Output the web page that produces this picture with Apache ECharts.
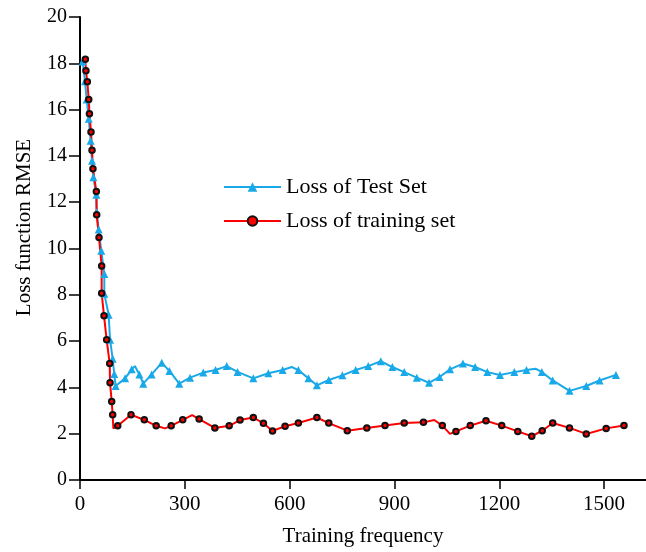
<!DOCTYPE html>
<html>
<head>
<meta charset="utf-8">
<script src="https://cdn.jsdelivr.net/npm/echarts@6/dist/echarts.min.js"></script>
<style>
  html, body { margin: 0; padding: 0; background: #fff; }
  #chart { width: 646px; height: 552px; }
</style>
</head>
<body>
<div id="chart"></div>
<script>
// Loss of Test Set
var testX = [7.6, 14.3, 19, 25, 30.5, 34.4, 38.2, 46.8, 47.7, 53.4, 61, 69.6, 69.6, 82, 86, 93.5, 98, 102,
  129, 148, 157, 170, 181, 205, 234, 256, 284, 315, 353, 388, 420, 451, 496, 539, 580, 606, 625, 654, 678,
  712, 751, 789, 825, 861, 894, 928, 964, 999, 1029, 1059, 1096, 1131, 1166, 1202, 1243, 1278, 1304, 1322,
  1353, 1401, 1449, 1487, 1534];
var testY = [18.08, 17.22, 16.44, 15.61, 14.65, 13.79, 13.08, 12.32, 11.57, 10.82, 9.9, 8.9, 8.04, 7.14, 6.06, 5.24, 4.58, 4.06,
  4.39, 4.78, 4.92, 4.56, 4.16, 4.56, 5.06, 4.71, 4.16, 4.42, 4.64, 4.75, 4.92, 4.67, 4.39, 4.61, 4.75, 4.88, 4.75, 4.39, 4.09,
  4.32, 4.52, 4.75, 4.92, 5.13, 4.88, 4.66, 4.42, 4.2, 4.45, 4.78, 5.03, 4.88, 4.66, 4.54, 4.66, 4.75, 4.81, 4.66,
  4.3, 3.85, 4.06, 4.3, 4.54];
var testBare = [157, 606, 1304];

// Loss of training set
var trainX = [15.3, 17, 21, 25, 27, 31.5, 34.4, 37, 46.8, 47.7, 54.4, 62, 62, 68.7, 76.3, 85, 86, 90.7, 93.5, 95.5,
  108, 146, 184, 218, 243, 261, 294, 321, 341, 386, 427, 458, 496, 525, 551, 587, 625, 678, 712, 765, 821,
  873, 928, 983, 1014, 1037, 1059, 1076, 1117, 1162, 1207, 1253, 1293, 1323, 1353, 1401, 1449, 1506, 1557];
var trainY = [18.18, 17.68, 17.2, 16.44, 15.82, 15.03, 14.24, 13.45, 12.46, 11.46, 10.47, 9.24, 8.07, 7.09, 6.06, 5.03, 4.2, 3.39, 2.82, 2.23,
  2.34, 2.82, 2.6, 2.34, 2.23, 2.34, 2.6, 2.8, 2.63, 2.25, 2.34, 2.59, 2.7, 2.45, 2.12, 2.32, 2.46, 2.7, 2.46, 2.13, 2.25,
  2.35, 2.46, 2.49, 2.59, 2.35, 1.99, 2.1, 2.35, 2.56, 2.35, 2.1, 1.89, 2.13, 2.46, 2.25, 1.99, 2.23, 2.35];
var trainBare = [95.5, 243, 321, 1014, 1059];

var xTicks = [0, 300, 600, 900, 1200, 1500];

var font = "'Liberation Serif', 'Times New Roman', serif";

function pairs(xs, ys, bare) {
  return xs.map(function (x, i) {
    var item = { value: [x, ys[i]] };
    if (bare.indexOf(x) >= 0) item.symbol = "none";
    return item;
  });
}

var chart = echarts.init(document.getElementById("chart"));
chart.setOption({
  animation: false,
  grid: { left: 80, right: 0, top: 17, bottom: 69 },
  legend: {
    orient: "vertical",
    left: 218,
    top: 171,
    itemWidth: 57,
    itemHeight: 12,
    itemGap: 12,
    textStyle: { fontFamily: font, fontSize: 22, color: "#000" }
  },
  xAxis: {
    type: "value",
    min: 0,
    max: 1620,
    interval: 300,
    name: "Training frequency",
    nameLocation: "middle",
    nameGap: 46,
    nameTextStyle: { fontFamily: font, fontSize: 21, color: "#000" },
    axisLine: { show: true, lineStyle: { color: "#000", width: 2 } },
    axisTick: { show: true, length: 9, lineStyle: { color: "#000", width: 1.5 }, customValues: xTicks },
    axisLabel: {
      fontFamily: font, fontSize: 21, color: "#000", margin: 14, customValues: xTicks,
      formatter: function (v) { return String(v); }
    },
    splitLine: { show: false }
  },
  yAxis: {
    type: "value",
    min: 0,
    max: 20,
    interval: 2,
    name: "Loss function RMSE",
    nameLocation: "middle",
    nameGap: 45,
    nameTextStyle: { fontFamily: font, fontSize: 21, color: "#000", padding: [0, 0, 0, 42] },
    axisLine: { show: true, lineStyle: { color: "#000", width: 2 } },
    axisTick: { show: true, length: 11, lineStyle: { color: "#000", width: 1.5 } },
    axisLabel: { fontFamily: font, fontSize: 20, color: "#000", margin: 13 },
    splitLine: { show: false }
  },
  series: [
    {
      name: "Loss of Test Set",
      type: "line",
      data: pairs(testX, testY, testBare),
      symbol: "triangle",
      symbolSize: 8,
      lineStyle: { color: "#1aa9e8", width: 2 },
      itemStyle: { color: "#1aa9e8", borderWidth: 0 }
    },
    {
      name: "Loss of training set",
      type: "line",
      data: pairs(trainX, trainY, trainBare),
      symbol: "circle",
      symbolSize: 5.5,
      lineStyle: { color: "#ff0000", width: 2 },
      itemStyle: { color: "#ff0000", borderColor: "#111", borderWidth: 2 }
    }
  ]
});
</script>
</body>
</html>
